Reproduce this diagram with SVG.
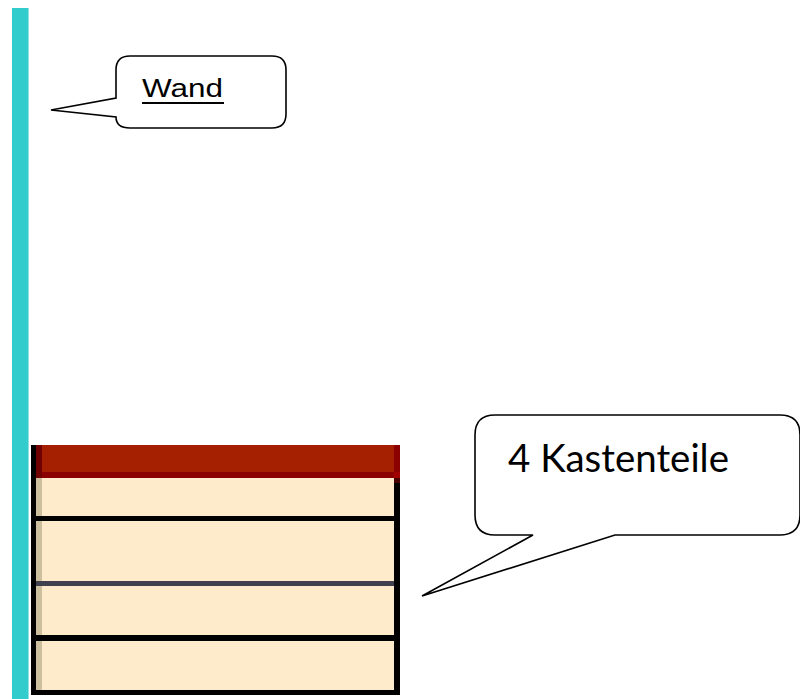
<svg xmlns="http://www.w3.org/2000/svg" width="800" height="699" viewBox="0 0 800 699">
  <style>
    .callout { fill: #FFFFFF; stroke: #000000; stroke-width: 1.6; stroke-linejoin: miter; }
    .lbl { font-family: "Liberation Sans", Arial, sans-serif; fill: #000000; }
    .cream { fill: #FDEBCB; }
  </style>
  <rect width="800" height="699" fill="#FFFFFF"/>

  <g id="wall">
    <rect x="12" y="8" width="16" height="691" fill="#33CCCC"/>
    <rect x="28" y="8" width="1" height="691" fill="#8FE3E3"/>
  </g>

  <g id="wand-callout">
    <path class="callout" d="M130,56 H272 Q286,56 286,70 V114 Q286,128 272,128 H130 Q116,128 116,117 L51,110 L116,98 V70 Q116,56 130,56 Z"/>
    <text class="lbl" x="142" y="96.5" font-size="25" textLength="81" lengthAdjust="spacingAndGlyphs">Wand</text>
    <rect x="142" y="102" width="82" height="2" fill="#000000"/>
  </g>

  <g id="box">
    <rect x="31" y="445" width="369" height="250" fill="#000000"/>
    <rect x="36" y="478" width="358" height="212" class="cream"/>
    <rect x="36" y="478" width="6" height="212" fill="#CBBF9E"/>
    <rect x="36" y="445" width="358" height="27" fill="#A52000"/>
    <rect x="36" y="472" width="358" height="6" fill="#8B0000"/>
    <rect x="36" y="445" width="6" height="33" fill="#700000"/>
    <rect x="394" y="445" width="6" height="27" fill="#8B0000"/>
    <rect x="394" y="472" width="6" height="6" fill="#A00000"/>
    <rect x="394" y="478" width="6" height="5" fill="#4A0000"/>
    <rect x="36" y="516" width="358" height="5" fill="#000000"/>
    <rect x="36" y="581" width="358" height="5" fill="#41404F"/>
    <rect x="36" y="635" width="358" height="6" fill="#000000"/>
  </g>

  <g id="kasten-callout">
    <path class="callout" d="M495,415 H780 Q800,415 800,435 V515 Q800,535 780,535 H615 L422,596 L533,535 H495 Q475,535 475,515 V435 Q475,415 495,415 Z"/>
    <text class="lbl" x="508" y="472" font-size="38" textLength="221" lengthAdjust="spacingAndGlyphs" style="font-family: Lato, 'Liberation Sans', sans-serif;">4 Kastenteile</text>
  </g>
</svg>
